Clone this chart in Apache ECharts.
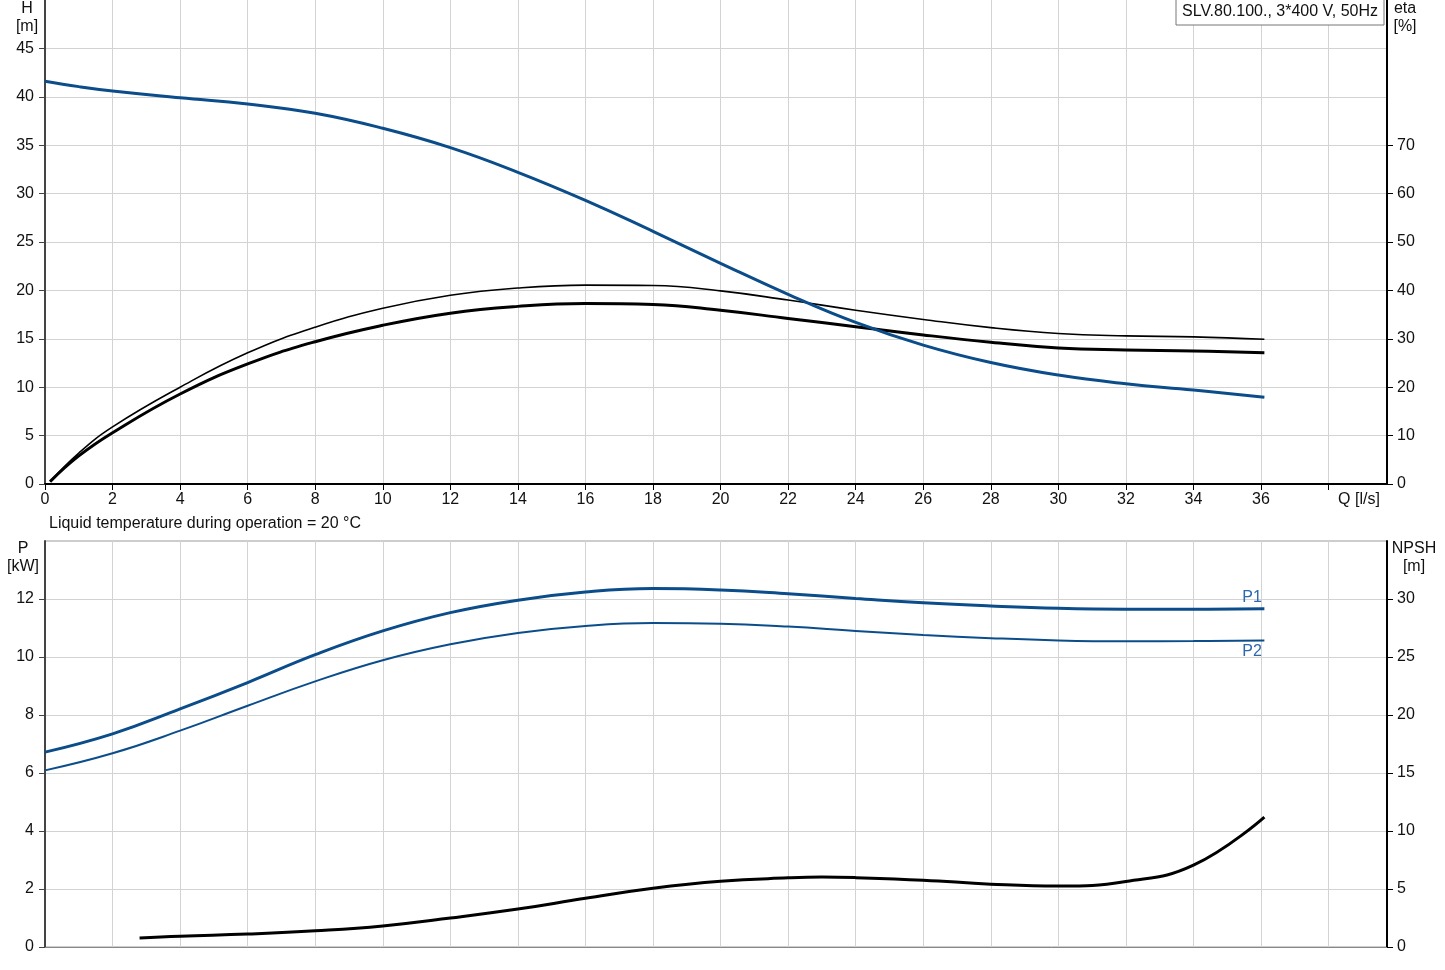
<!DOCTYPE html>
<html>
<head>
<meta charset="utf-8">
<script src="https://cdn.jsdelivr.net/npm/echarts@6/dist/echarts.min.js"></script>
<style>
html,body{margin:0;padding:0;background:#fff;}
#c{width:1445px;height:970px;}
</style>
</head>
<body>
<div id="c"></div>
<script>
// Flow Q [l/s]
const qH   = [0, 1, 2, 4, 6, 8, 10, 12, 14, 16, 18, 20, 22, 24, 26, 28, 30, 32, 34, 36.1];
const hVal = [41.6, 41.05, 40.6, 39.9, 39.25, 38.3, 36.75, 34.75, 32.2, 29.3, 26.1, 22.8, 19.6, 16.7, 14.35, 12.55, 11.25, 10.35, 9.7, 8.95];

const qEta    = [0.15, 1, 2, 4, 6, 8, 10, 12, 14, 16, 18, 20, 22, 24, 26, 28, 30, 32, 34, 36.1];
const etaThin = [0.5, 6.4, 11.8, 20.0, 27.1, 32.4, 36.3, 39.0, 40.5, 41.1, 41.0, 39.9, 38.0, 35.9, 34.0, 32.3, 31.1, 30.6, 30.4, 29.9];
const etaThick= [0.5, 5.8, 10.6, 18.6, 24.8, 29.4, 32.8, 35.3, 36.7, 37.3, 37.1, 35.9, 34.2, 32.5, 30.8, 29.3, 28.1, 27.7, 27.5, 27.1];

const qP   = [0, 2, 4, 6, 8, 10, 12, 14, 16, 18, 20, 22, 24, 26, 28, 30, 32, 34, 36.1];
const p1   = [6.72, 7.35, 8.21, 9.12, 10.08, 10.9, 11.53, 11.96, 12.24, 12.36, 12.31, 12.18, 12.02, 11.87, 11.76, 11.68, 11.65, 11.65, 11.66];
const p2   = [6.09, 6.68, 7.46, 8.32, 9.16, 9.89, 10.44, 10.83, 11.07, 11.17, 11.15, 11.05, 10.9, 10.76, 10.65, 10.57, 10.54, 10.55, 10.57];

const qN   = [2.8, 4, 6, 8, 10, 12, 14, 16, 18, 20, 22, 23, 24, 26, 28, 30, 32, 34, 36.1];
const npsh = [0.77, 0.93, 1.12, 1.4, 1.82, 2.5, 3.27, 4.2, 5.07, 5.67, 5.96, 6.03, 5.98, 5.76, 5.42, 5.25, 5.65, 7.05, 11.2];

const qTicks   = [0, 2, 4, 6, 8, 10, 12, 14, 16, 18, 20, 22, 24, 26, 28, 30, 32, 34, 36, 38];
const qLabels  = [0, 2, 4, 6, 8, 10, 12, 14, 16, 18, 20, 22, 24, 26, 28, 30, 32, 34, 36];
const hTicks   = [0, 5, 10, 15, 20, 25, 30, 35, 40, 45];
const etaTicks = [0, 10, 20, 30, 40, 50, 60, 70];
const pTicks   = [0, 2, 4, 6, 8, 10, 12];
const nTicks   = [0, 5, 10, 15, 20, 25, 30];

const titleText = 'SLV.80.100., 3*400 V, 50Hz';
const noteText  = 'Liquid temperature during operation = 20 °C';

const zip = (xs, ys) => xs.map((x, i) => [x, ys[i]]);

const FONT = '"Liberation Sans", Arial, sans-serif';
const FS = 16;
const F = FS + 'px ' + FONT;
const BLUE = '#0b4d8a';
const SM = 0.45;
const lbl = {color: '#111', fontSize: FS, fontFamily: FONT};
const gridLine = {show: true, lineStyle: {color: '#d3d3d3', width: 1}};
const txt = (x, y, text, align, fill) => ({type: 'text', x: x, y: y,
  style: {text: text, font: F, fill: fill || '#111', align: align || 'left', verticalAlign: 'top', lineHeight: 18}, z: 11});

const chart = echarts.init(document.getElementById('c'), null, {renderer: 'canvas'});
chart.setOption({
  animation: false,
  backgroundColor: '#fff',
  textStyle: {fontFamily: FONT},
  grid: [
    {left: 45, right: 58, top: 0, height: 484, show: false},
    {left: 45, right: 58, top: 541, height: 406, show: true, borderColor: '#9a9a9a', borderWidth: 1}
  ],
  xAxis: [
    {type: 'value', gridIndex: 0, min: 0, max: 39.73, interval: 2,
     axisLine: {show: true, onZero: false, lineStyle: {color: '#000', width: 2}},
     axisTick: {show: true, length: 6, customValues: qTicks, lineStyle: {color: '#000'}},
     axisLabel: Object.assign({margin: 8, customValues: qLabels}, lbl),
     splitLine: gridLine},
    {type: 'value', gridIndex: 1, min: 0, max: 39.73, interval: 2,
     axisLine: {show: true, onZero: false, lineStyle: {color: '#888', width: 1}},
     axisTick: {show: false}, axisLabel: {show: false},
     splitLine: gridLine}
  ],
  yAxis: [
    {type: 'value', gridIndex: 0, min: 0, max: 50, interval: 5, position: 'left',
     axisLine: {show: true, onZero: false, lineStyle: {color: '#444', width: 2}},
     axisTick: {show: true, length: 6, customValues: hTicks, lineStyle: {color: '#444'}},
     axisLabel: Object.assign({margin: 11, customValues: hTicks}, lbl),
     splitLine: gridLine},
    {type: 'value', gridIndex: 0, min: 0, max: 100, interval: 10, position: 'right',
     axisLine: {show: true, onZero: false, lineStyle: {color: '#000', width: 2}},
     axisTick: {show: true, length: 6, customValues: etaTicks, lineStyle: {color: '#000'}},
     axisLabel: Object.assign({margin: 10, customValues: etaTicks}, lbl),
     splitLine: {show: false}},
    {type: 'value', gridIndex: 1, min: 0, max: 14, interval: 2, position: 'left',
     axisLine: {show: true, onZero: false, lineStyle: {color: '#444', width: 2}},
     axisTick: {show: true, length: 6, customValues: pTicks, lineStyle: {color: '#444'}},
     axisLabel: Object.assign({margin: 11, customValues: pTicks}, lbl),
     splitLine: gridLine},
    {type: 'value', gridIndex: 1, min: 0, max: 35, interval: 5, position: 'right',
     axisLine: {show: true, onZero: false, lineStyle: {color: '#000', width: 2}},
     axisTick: {show: true, length: 6, customValues: nTicks, lineStyle: {color: '#000'}},
     axisLabel: Object.assign({margin: 10, customValues: nTicks}, lbl),
     splitLine: {show: false}}
  ],
  series: [
    {name: 'eta thin', type: 'line', xAxisIndex: 0, yAxisIndex: 1, data: zip(qEta, etaThin),
     smooth: SM, symbol: 'none', lineStyle: {color: '#000', width: 1.6}, z: 3},
    {name: 'eta thick', type: 'line', xAxisIndex: 0, yAxisIndex: 1, data: zip(qEta, etaThick),
     smooth: SM, symbol: 'none', lineStyle: {color: '#000', width: 3}, z: 3},
    {name: 'H', type: 'line', xAxisIndex: 0, yAxisIndex: 0, data: zip(qH, hVal),
     smooth: SM, symbol: 'none', lineStyle: {color: BLUE, width: 3}, z: 4},
    {name: 'P1', type: 'line', xAxisIndex: 1, yAxisIndex: 2, data: zip(qP, p1),
     smooth: SM, symbol: 'none', lineStyle: {color: BLUE, width: 3}, z: 4},
    {name: 'P2', type: 'line', xAxisIndex: 1, yAxisIndex: 2, data: zip(qP, p2),
     smooth: SM, symbol: 'none', lineStyle: {color: BLUE, width: 2}, z: 4},
    {name: 'NPSH', type: 'line', xAxisIndex: 1, yAxisIndex: 3, data: zip(qN, npsh),
     smooth: SM, symbol: 'none', lineStyle: {color: '#000', width: 3}, z: 4}
  ],
  graphic: [
    {type: 'rect', x: 1176, y: -1, shape: {width: 208, height: 26},
     style: {fill: '#fff', stroke: '#777', lineWidth: 1}, z: 10},
    txt(1280, 3, titleText, 'center'),
    txt(27, 0, 'H\n[m]', 'center'),
    txt(1405, 0, 'eta\n[%]', 'center'),
    txt(1359, 491, 'Q [l/s]', 'center'),
    txt(49, 515, noteText, 'left'),
    txt(23, 540, 'P\n[kW]', 'center'),
    txt(1414, 540, 'NPSH\n[m]', 'center'),
    txt(1252, 589, 'P1', 'center', '#2d67ad'),
    txt(1252, 643, 'P2', 'center', '#2d67ad')
  ]
});
</script>
</body>
</html>
